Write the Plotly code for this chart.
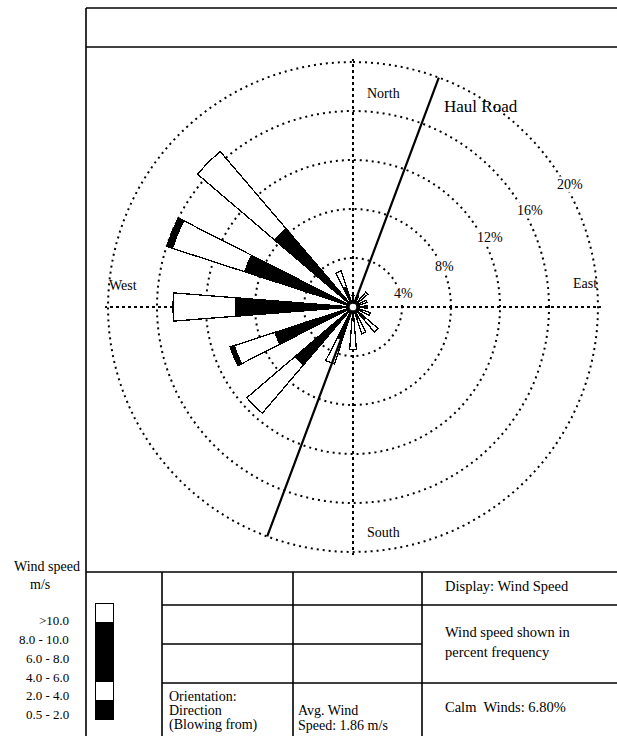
import plotly.graph_objects as go

W, H = 617, 736

# ---- data ----
directions = ["N", "NNE", "NE", "ENE", "E", "ESE", "SE", "SSE",
              "S", "SSW", "SW", "WSW", "W", "WNW", "NW", "NNW"]
speed_bins = ["0.5 - 2.0", "2.0 - 4.0", "4.0 - 6.0", "6.0 - 8.0", "8.0 - 10.0", ">10.0"]
freq_05_2 = [0.5, 0.5, 0.8, 0.6, 0.6, 0.7, 1.3, 1.0, 1.1, 2.8, 6.2, 6.7, 9.6, 9.3, 8.4, 1.7]
freq_2_4 = [0.4, 0.5, 0.8, 0.6, 0.6, 0.8, 1.4, 1.3, 2.4, 2.1, 5.2, 3.5, 5.1, 6.2, 8.3, 1.4]
freq_4_6 = [0, 0, 0, 0, 0, 0, 0, 0, 0, 0, 0, 0.35, 0, 0.5, 0, 0]
ring_values = [4, 8, 12, 16, 20]
ring_labels = ["4%", "8%", "12%", "16%", "20%"]
haul_road_bearing = 20.5
calm_pct = 6.80
avg_speed = 1.86

bin_colors = ["black", "white", "black", "black", "black", "white"]

theta_deg = [i * 360 / len(directions) for i in range(len(directions))]


def px(x):
    return x / W


def py(y):
    return 1 - y / H


FONT = "Liberation Serif, Times New Roman, serif"

# polar geometry: centre (353, 307) px, 20 % ring at 245 px
CX, CY, R20 = 353, 307, 245
rmax = ring_values[-1] * 1.012
rpx = R20 * rmax / ring_values[-1]

fig = go.Figure()

# outer 20% ring (dotted)
circle_theta = list(range(0, 361, 3))
fig.add_trace(go.Scatterpolar(
    r=[ring_values[-1]] * len(circle_theta), theta=circle_theta, mode="lines",
    line=dict(color="black", width=2, dash="2px,4px"),
    showlegend=False, hoverinfo="skip"))

for vals, name, col in [(freq_05_2, speed_bins[0], bin_colors[0]),
                        (freq_2_4, speed_bins[1], bin_colors[1]),
                        (freq_4_6, speed_bins[2], bin_colors[2])]:
    fig.add_trace(go.Barpolar(
        r=vals, theta=theta_deg, width=9, name=name,
        marker=dict(color=col, line=dict(color="black", width=1.3)),
        showlegend=False, hoverinfo="skip"))

# Haul road line
fig.add_trace(go.Scatterpolar(
    r=[ring_values[-1], 0, ring_values[-1]],
    theta=[haul_road_bearing, haul_road_bearing, haul_road_bearing + 180],
    mode="lines", line=dict(color="black", width=2.2),
    showlegend=False, hoverinfo="skip"))

# calm circle at center
fig.add_trace(go.Scatterpolar(
    r=[0], theta=[0], mode="markers",
    marker=dict(symbol="circle", size=8, color="white", line=dict(color="black", width=1.3)),
    showlegend=False, hoverinfo="skip"))

# legend bar (inset cartesian)
for name, col in zip(speed_bins, bin_colors):
    fig.add_trace(go.Bar(
        x=[0], y=[1], width=1, name=name, xaxis="x", yaxis="y",
        marker=dict(color=col, line=dict(color="black", width=1.3)),
        showlegend=False, hoverinfo="skip"))

fig.update_layout(
    width=W, height=H,
    margin=dict(l=0, r=0, t=0, b=0),
    paper_bgcolor="white", plot_bgcolor="white",
    barmode="stack",
    xaxis=dict(domain=[px(95), px(114)], range=[-0.5, 0.5], visible=False, fixedrange=True),
    yaxis=dict(domain=[py(720), py(603)], range=[0, len(speed_bins)], visible=False, fixedrange=True),
    polar=dict(
        domain=dict(x=[px(CX - rpx), px(CX + rpx)], y=[py(CY + rpx), py(CY - rpx)]),
        bgcolor="rgba(0,0,0,0)",
        barmode="stack",
        radialaxis=dict(range=[0, rmax], tickvals=ring_values[:-1], showticklabels=False,
                        ticks="", showline=False, gridcolor="black", gridwidth=2,
                        griddash="2px,4px"),
        angularaxis=dict(rotation=90, direction="clockwise", tickvals=[0, 90, 180, 270],
                         showticklabels=False, ticks="", showline=False,
                         gridcolor="black", gridwidth=2, griddash="3px,3px"),
    ),
    font=dict(family=FONT, color="black"),
)

# frame & table lines
lw = 1.6
lines = [
    (86, 8, 617, 8), (86, 47, 617, 47), (86, 8, 86, 736), (86, 572, 617, 572),
    (162, 572, 162, 736), (293, 572, 293, 736), (422, 572, 422, 736),
    (162, 605, 617, 605), (162, 644, 422, 644), (162, 683, 617, 683),
]
for x0, y0, x1, y1 in lines:
    fig.add_shape(type="line", xref="paper", yref="paper",
                  x0=px(x0), y0=py(y0), x1=px(x1), y1=py(y1),
                  line=dict(color="black", width=lw))


def txt(s, x, y, size=14, xanchor="center", bg=None):
    fig.add_annotation(text=s, x=px(x), y=py(y), xref="paper", yref="paper",
                       showarrow=False, xanchor=xanchor, yanchor="middle",
                       bgcolor=bg, borderpad=0,
                       font=dict(family=FONT, size=size, color="black"))


# compass labels
txt("North", 383, 93)
txt("South", 383, 532)
txt("West", 123, 285)
txt("East", 585, 283)
txt("Haul Road", 481, 107, size=17)

# ring labels
ring_pos = [(403, 293), (445, 266), (490, 237), (530, 210), (570, 184)]
for lab, (x, y) in zip(ring_labels, ring_pos):
    txt(lab, x, y, size=14, bg="white")

# legend labels
txt("Wind speed", 81, 566, size=14, xanchor="right")
txt("m/s", 40, 584, size=14)
leg_y = [714, 695, 677, 658, 639, 620]
for lab, y in zip(speed_bins, leg_y):
    txt(lab, 70, y, size=13, xanchor="right")

# table text
txt("Display: Wind Speed", 444, 586, size=14.5, xanchor="left")
txt("Wind speed shown in", 444, 632, size=14.5, xanchor="left")
txt("percent frequency", 444, 652, size=14.5, xanchor="left")
txt(f"Calm  Winds: {calm_pct:.2f}%", 444, 707, size=14.5, xanchor="left")
txt("Orientation:", 168, 696, size=14, xanchor="left")
txt("Direction", 168, 710, size=14, xanchor="left")
txt("(Blowing from)", 168, 725, size=14, xanchor="left")
txt("Avg. Wind", 297, 710, size=14, xanchor="left")
txt(f"Speed: {avg_speed:.2f} m/s", 297, 725, size=14, xanchor="left")

fig.write_html("out.html", config={"displayModeBar": False},
               post_script="document.body.style.margin='0';document.body.style.overflow='hidden';")
